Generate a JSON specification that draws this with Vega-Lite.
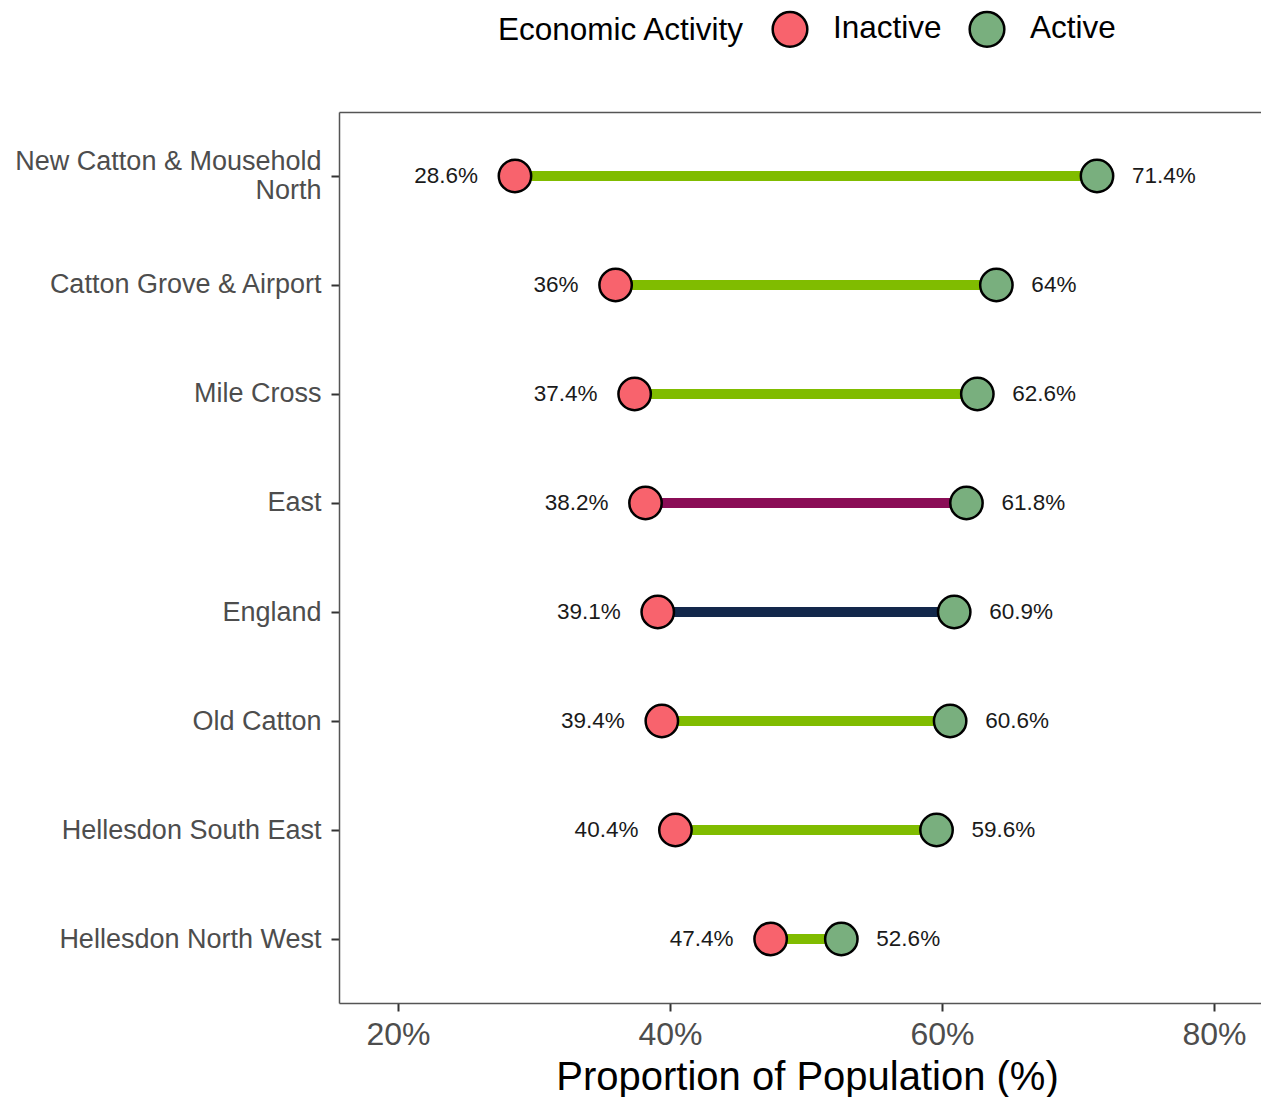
{
  "$schema": "https://vega.github.io/schema/vega-lite/v6.json",
  "autosize": {"type": "none"},
  "width": 922,
  "height": 891,
  "padding": {"left": 339, "top": 112, "right": 0, "bottom": 94},
  "background": "white",
  "config": {
    "font": "Liberation Sans",
    "view": {"stroke": null},
    "axis": {"grid": false}
  },
  "datasets": {
    "pts": [
      {"area": "New Catton & Mousehold North", "status": "Inactive", "value": 0.286},
      {"area": "New Catton & Mousehold North", "status": "Active", "value": 0.714},
      {"area": "Catton Grove & Airport", "status": "Inactive", "value": 0.36},
      {"area": "Catton Grove & Airport", "status": "Active", "value": 0.64},
      {"area": "Mile Cross", "status": "Inactive", "value": 0.374},
      {"area": "Mile Cross", "status": "Active", "value": 0.626},
      {"area": "East", "status": "Inactive", "value": 0.382},
      {"area": "East", "status": "Active", "value": 0.618},
      {"area": "England", "status": "Inactive", "value": 0.391},
      {"area": "England", "status": "Active", "value": 0.609},
      {"area": "Old Catton", "status": "Inactive", "value": 0.394},
      {"area": "Old Catton", "status": "Active", "value": 0.606},
      {"area": "Hellesdon South East", "status": "Inactive", "value": 0.404},
      {"area": "Hellesdon South East", "status": "Active", "value": 0.596},
      {"area": "Hellesdon North West", "status": "Inactive", "value": 0.474},
      {"area": "Hellesdon North West", "status": "Active", "value": 0.526}
    ],
    "segs": [
      {"area": "New Catton & Mousehold North", "level": "Ward", "inactive": 0.286, "active": 0.714},
      {"area": "Catton Grove & Airport", "level": "Ward", "inactive": 0.36, "active": 0.64},
      {"area": "Mile Cross", "level": "Ward", "inactive": 0.374, "active": 0.626},
      {"area": "East", "level": "Region", "inactive": 0.382, "active": 0.618},
      {"area": "England", "level": "Country", "inactive": 0.391, "active": 0.609},
      {"area": "Old Catton", "level": "Ward", "inactive": 0.394, "active": 0.606},
      {"area": "Hellesdon South East", "level": "Ward", "inactive": 0.404, "active": 0.596},
      {"area": "Hellesdon North West", "level": "Ward", "inactive": 0.474, "active": 0.526}
    ]
  },
  "encoding": {
    "y": {
      "field": "area",
      "type": "nominal",
      "sort": ["New Catton & Mousehold North", "Catton Grove & Airport", "Mile Cross", "East", "England", "Old Catton", "Hellesdon South East", "Hellesdon North West"],
      "scale": {"type": "point", "padding": 0.587},
      "axis": {
        "title": null,
        "domain": true,
        "domainColor": "#555555",
        "domainWidth": 1.5,
        "tickColor": "#333333",
        "tickWidth": 2,
        "tickSize": 8,
        "labelFontSize": 27,
        "labelColor": "#4d4d4d",
        "labelPadding": 10,
        "labelLimit": 0,
        "labelLineHeight": 29,
        "labelExpr": "datum.label == 'New Catton & Mousehold North' ? ['New Catton & Mousehold', 'North'] : datum.label",
        "labelOffset": {"condition": {"test": "datum.value == 'New Catton & Mousehold North'", "value": -14}, "value": 0}
      }
    }
  },
  "layer": [
    {
      "data": {"name": "segs"},
      "mark": {"type": "rule", "strokeWidth": 10},
      "encoding": {
        "x": {
          "field": "inactive",
          "type": "quantitative",
          "scale": {"domain": [0.1566, 0.8346], "nice": false, "zero": false},
          "axis": {
            "orient": "bottom",
            "values": [0.2, 0.4, 0.6, 0.8],
            "format": "~%",
            "title": "Proportion of Population (%)",
            "titleFontSize": 40,
            "titleFontWeight": "normal",
            "titleColor": "#000000",
            "titlePadding": 7,
            "titleX": 468,
            "domain": true,
            "domainColor": "#555555",
            "domainWidth": 1.5,
            "tickColor": "#333333",
            "tickWidth": 2,
            "tickSize": 8,
            "labelFontSize": 32,
            "labelColor": "#4d4d4d",
            "labelPadding": 8
          }
        },
        "x2": {"field": "active"},
        "color": {
          "field": "level",
          "type": "nominal",
          "scale": {"domain": ["Ward", "Region", "Country"], "range": ["#80BC00", "#8A0D56", "#13284B"]},
          "legend": null
        }
      }
    },
    {
      "data": {"name": "pts"},
      "mark": {"type": "point", "filled": true, "shape": "circle", "size": 1050, "stroke": "#000000", "strokeWidth": 2.5, "opacity": 1, "fillOpacity": 1},
      "encoding": {
        "x": {
          "field": "value",
          "type": "quantitative",
          "axis": {
            "orient": "top",
            "labels": false,
            "ticks": false,
            "title": null,
            "domain": true,
            "domainColor": "#555555",
            "domainWidth": 1.5
          }
        },
        "fill": {
          "field": "status",
          "type": "nominal",
          "scale": {"domain": ["Inactive", "Active"], "range": ["#F8636D", "#79AF7E"]},
          "legend": {
            "title": "Economic Activity",
            "orient": "none",
            "direction": "horizontal",
            "titleOrient": "left",
            "legendX": 159,
            "legendY": -102,
            "titleFontSize": 31.5,
            "titleFontWeight": "normal",
            "titleColor": "#000000",
            "titlePadding": 26,
            "titleLimit": 0,
            "titleBaseline": "middle",
            "labelFontSize": 31.5,
            "labelColor": "#000000",
            "labelLimit": 0,
            "labelOffset": 24,
            "columnPadding": 22,
            "symbolSize": 1200,
            "symbolStrokeColor": "#000000",
            "symbolStrokeWidth": 2.5,
            "symbolType": "circle"
          }
        }
      }
    },
    {
      "data": {"name": "pts"},
      "transform": [{"filter": "datum.status == 'Inactive'"}],
      "mark": {"type": "text", "align": "right", "baseline": "middle", "dx": -37, "fontSize": 22.5, "color": "#1a1a1a"},
      "encoding": {
        "x": {"field": "value", "type": "quantitative", "axis": null},
        "text": {"field": "value", "type": "quantitative", "format": ".1~%"}
      }
    },
    {
      "data": {"name": "pts"},
      "transform": [{"filter": "datum.status == 'Active'"}],
      "mark": {"type": "text", "align": "left", "baseline": "middle", "dx": 35, "fontSize": 22.5, "color": "#1a1a1a"},
      "encoding": {
        "x": {"field": "value", "type": "quantitative", "axis": null},
        "text": {"field": "value", "type": "quantitative", "format": ".1~%"}
      }
    }
  ],
  "resolve": {"axis": {"x": "independent"}}
}
